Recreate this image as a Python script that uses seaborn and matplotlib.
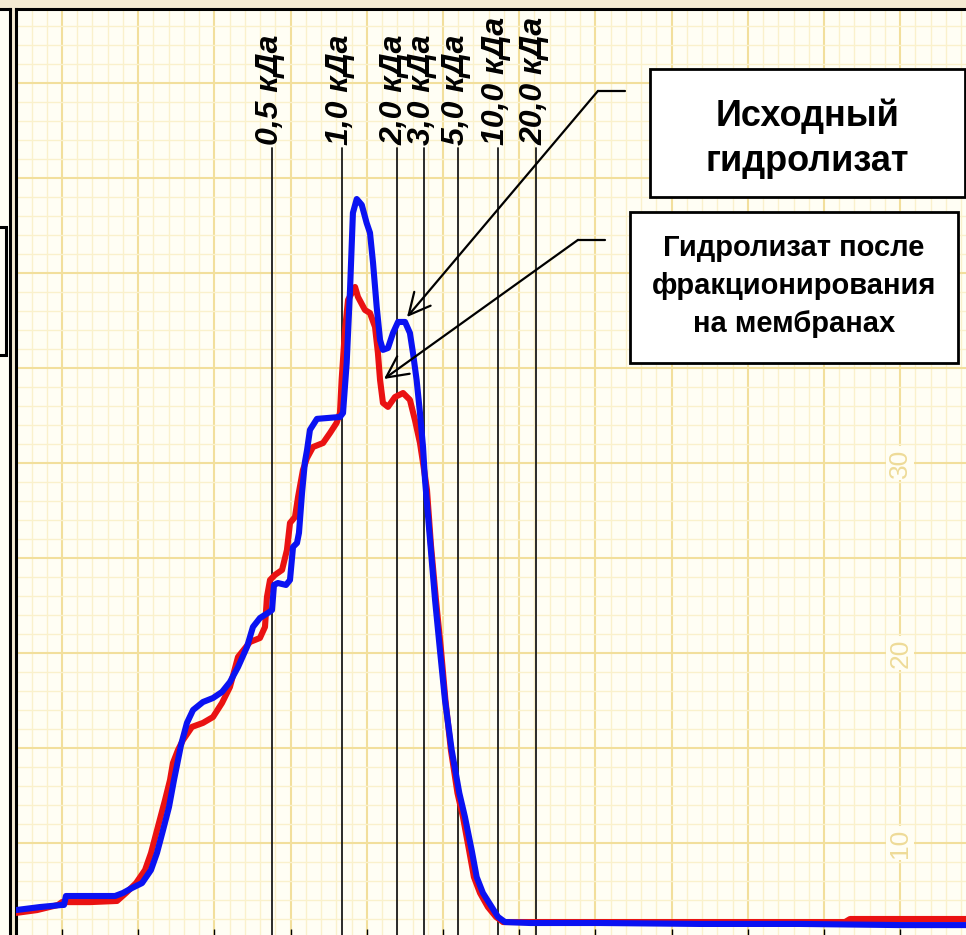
import numpy as np
import pandas as pd
import matplotlib
matplotlib.use("Agg")
import matplotlib.pyplot as plt
from matplotlib.patches import Rectangle
import seaborn as sns

# ---------------- data ----------------
blue_x = [-3.02, -1.44, 0.00, 0.13, 0.26, 1.84, 3.48, 4.00, 4.59, 5.25,
          5.84, 6.23, 6.63, 7.02, 7.35, 7.55, 7.81, 8.20, 8.60, 9.25,
          9.91, 10.50, 11.02, 11.55, 12.14, 12.53, 12.99, 13.52, 13.78, 13.91,
          14.17, 14.70, 14.96, 15.16, 15.42, 15.55, 15.75, 15.94, 16.08, 16.27,
          16.73, 18.24, 18.44, 18.68, 18.90, 19.09, 19.34, 19.67, 19.99, 20.21,
          20.41, 20.65, 20.87, 21.06, 21.39, 21.72, 22.05, 22.51, 22.83, 23.03,
          23.27, 23.49, 23.69, 23.82, 24.15, 24.48, 24.80, 25.13, 25.57, 26.07,
          26.44, 26.88, 27.21, 27.62, 28.20, 28.61, 29.07, 30.71, 35.30, 41.86,
          48.43, 54.99, 61.55]
blue_y = [6.47, 6.63, 6.74, 6.74, 7.21, 7.21, 7.21, 7.37, 7.63, 7.89,
          8.58, 9.47, 10.68, 11.89, 13.32, 14.11, 15.16, 16.32, 17.00, 17.42,
          17.63, 17.95, 18.47, 19.26, 20.32, 21.37, 21.84, 22.11, 22.26, 23.58,
          23.68, 23.58, 23.84, 25.58, 25.79, 26.32, 28.42, 30.05, 30.68, 31.74,
          32.32, 32.42, 32.63, 35.26, 39.11, 43.16, 43.89, 43.58, 42.63, 42.11,
          40.53, 38.21, 36.47, 35.95, 36.05, 36.84, 37.42, 37.42, 36.84, 35.79,
          34.37, 32.63, 30.84, 29.11, 25.95, 22.79, 20.16, 17.53, 14.89, 12.63,
          11.37, 9.63, 8.21, 7.37, 6.63, 6.11, 5.84, 5.79, 5.79, 5.74,
          5.74, 5.68, 5.68]

red_x = [-3.02, -1.64, -0.26, 0.00, 1.84, 3.61, 4.20, 4.86, 5.45, 5.84,
         6.36, 6.76, 7.09, 7.28, 7.61, 7.94, 8.53, 9.25, 9.91, 10.50,
         11.02, 11.55, 12.34, 12.99, 13.32, 13.45, 13.65, 13.98, 14.44, 14.76,
         14.96, 15.29, 15.49, 15.81, 16.08, 16.47, 17.13, 17.59, 18.02, 18.24,
         18.35, 18.57, 18.77, 19.23, 19.42, 19.88, 20.21, 20.54, 20.73, 20.87,
         21.06, 21.39, 21.85, 22.38, 22.83, 23.16, 23.49, 23.69, 23.95, 24.21,
         24.54, 24.87, 25.16, 25.52, 25.95, 26.31, 26.71, 27.03, 27.43, 27.95,
         28.48, 28.94, 35.30, 41.86, 51.38, 51.71, 61.55]
red_y = [6.32, 6.47, 6.74, 6.89, 6.89, 6.95, 7.37, 7.89, 8.58, 9.47,
         11.05, 12.26, 13.32, 14.21, 14.89, 15.42, 16.11, 16.32, 16.63, 17.37,
         18.21, 19.79, 20.58, 20.79, 21.37, 22.95, 23.84, 24.11, 24.37, 25.42,
         26.84, 27.16, 28.21, 29.63, 30.26, 30.84, 31.05, 31.58, 32.11, 32.63,
         34.37, 37.00, 38.58, 39.26, 38.74, 38.05, 37.89, 37.16, 35.79, 34.37,
         33.16, 32.95, 33.47, 33.68, 33.32, 32.26, 31.05, 30.00, 28.58, 25.68,
         22.79, 20.16, 17.53, 14.89, 12.63, 11.37, 9.63, 8.21, 7.37, 6.63,
         6.11, 5.84, 5.84, 5.84, 5.84, 6.00, 6.00]

series_names = ["Исходный\nгидролизат",
                "Гидролизат после\nфракционирования\nна мембранах"]

marker_x = [13.76, 18.35, 21.96, 23.75, 26.00, 28.62, 31.10]
marker_labels = ["0,5 кДа", "1,0 кДа", "2,0 кДа", "3,0 кДа",
                 "5,0 кДа", "10,0 кДа", "20,0 кДа"]
marker_top = 46.6

paper_labels = ["10", "20", "30"]
paper_label_y = [10, 20, 30]
paper_label_x = 55

# ---------------- style ----------------
sns.set_theme(style="white")
plt.rcParams["font.family"] = ["Liberation Sans", "DejaVu Sans"]
plt.rcParams["text.color"] = "black"

BG = "#f4ead2"
PAPER = "#fffef4"
MINOR = "#faf1cc"
MAJOR = "#f2df9c"
BLUE = "#0a12f2"
RED = "#ea1212"

W, H = 966, 935
fig = plt.figure(figsize=(W / 100, H / 100), dpi=100, facecolor=BG)

# neighbouring (cropped) panel on the far left
ax0 = fig.add_axes([-50 / W, -0.02, 60 / W, (H - 9) / H + 0.02])
ax0.set_facecolor(PAPER)
ax0.set_xticks([]); ax0.set_yticks([])
for s in ax0.spines.values():
    s.set_color("black"); s.set_linewidth(2.2)
fig.add_artist(Rectangle((-5 / W, (H - 355) / H), 11 / W, 128 / H,
                         transform=fig.transFigure, facecolor=PAPER,
                         edgecolor="black", lw=2.2, zorder=5))

# main graph-paper panel
ax = fig.add_axes([16 / W, -2 / H, (1000 - 16) / W, (937 - 9) / H])
ax.set_facecolor(PAPER)

df_blue = pd.DataFrame({"x": blue_x, "y": blue_y, "series": series_names[0]})
df_red = pd.DataFrame({"x": red_x, "y": red_y, "series": series_names[1]})

sns.lineplot(data=df_red, x="x", y="y", color=RED, lw=4.4, sort=False,
             estimator=None, ax=ax, zorder=3, legend=False)
sns.lineplot(data=df_blue, x="x", y="y", color=BLUE, lw=4.4, sort=False,
             estimator=None, ax=ax, zorder=4, legend=False)
for ln in ax.lines:
    ln.set_solid_capstyle("round"); ln.set_solid_joinstyle("round")

ax.set_xlim(-3.018, 61.55)
ax.set_ylim(5.053, 53.89)
ax.set_xlabel(""); ax.set_ylabel("")

ax.set_xticks(np.arange(0, 65, 5))
ax.set_xticks(np.arange(-3, 62, 1), minor=True)
ax.set_yticks(np.arange(10, 55, 5))
ax.set_yticks(np.arange(6, 54, 1), minor=True)
ax.grid(which="minor", color=MINOR, lw=1.0, zorder=0)
ax.grid(which="major", color=MAJOR, lw=1.5, zorder=0)
ax.set_axisbelow(True)
ax.tick_params(which="major", axis="x", direction="in", length=6, width=1,
               color="black", bottom=True, top=False, labelbottom=False)
ax.tick_params(which="major", axis="y", length=0, labelleft=False)
ax.tick_params(which="minor", length=0)
for side, s in ax.spines.items():
    s.set_color("black"); s.set_linewidth(2.2)
ax.spines["bottom"].set_visible(False)

# faint numbers printed on the paper
for lab, yy in zip(paper_labels, paper_label_y):
    ax.text(paper_label_x, yy, lab, rotation=90, ha="center", va="center",
            fontsize=19, color="#eedb98", zorder=1,
            bbox=dict(boxstyle="square,pad=0.08", fc=PAPER, ec="none"))

# molecular-mass calibration markers
for mx, lab in zip(marker_x, marker_labels):
    ax.plot([mx, mx], [ax.get_ylim()[0], marker_top], color="#1a1a1a",
            lw=1.3, zorder=2)
    ax.text(mx - 0.12, marker_top + 0.12, lab, rotation=90, ha="center",
            va="bottom", fontsize=23, fontweight="bold", fontstyle="italic",
            color="black", zorder=6)

# annotation boxes
ax.add_patch(Rectangle((38.58, 44.0), 59.25 - 38.58, 50.74 - 44.0,
                       facecolor="white", edgecolor="black", lw=2.0, zorder=7))
ax.text(48.92, 47.05, series_names[0], ha="center", va="center",
        fontsize=26, fontweight="bold", linespacing=1.35, color="black",
        zorder=8)
ax.add_patch(Rectangle((37.27, 35.26), 58.79 - 37.27, 43.21 - 35.26,
                       facecolor="white", edgecolor="black", lw=2.0, zorder=7))
ax.text(48.03, 39.3, series_names[1], ha="center", va="center",
        fontsize=21, fontweight="bold", linespacing=1.45, color="black",
        zorder=8)

# leader lines with arrows
arrow_kw = dict(arrowstyle="->,head_length=0.7,head_width=0.35", lw=1.6,
                color="black", shrinkA=0, shrinkB=0, mutation_scale=22)
ax.plot([35.17, 36.94], [49.58, 49.58], color="black", lw=1.6, zorder=6)
ax.annotate("", xy=(22.64, 37.68), xytext=(35.17, 49.58),
            arrowprops=arrow_kw, zorder=6)
ax.plot([33.86, 35.63], [41.74, 41.74], color="black", lw=1.6, zorder=6)
ax.annotate("", xy=(21.13, 34.42), xytext=(33.86, 41.74),
            arrowprops=arrow_kw, zorder=6)

fig.savefig("out.png", dpi=100, facecolor=BG)
